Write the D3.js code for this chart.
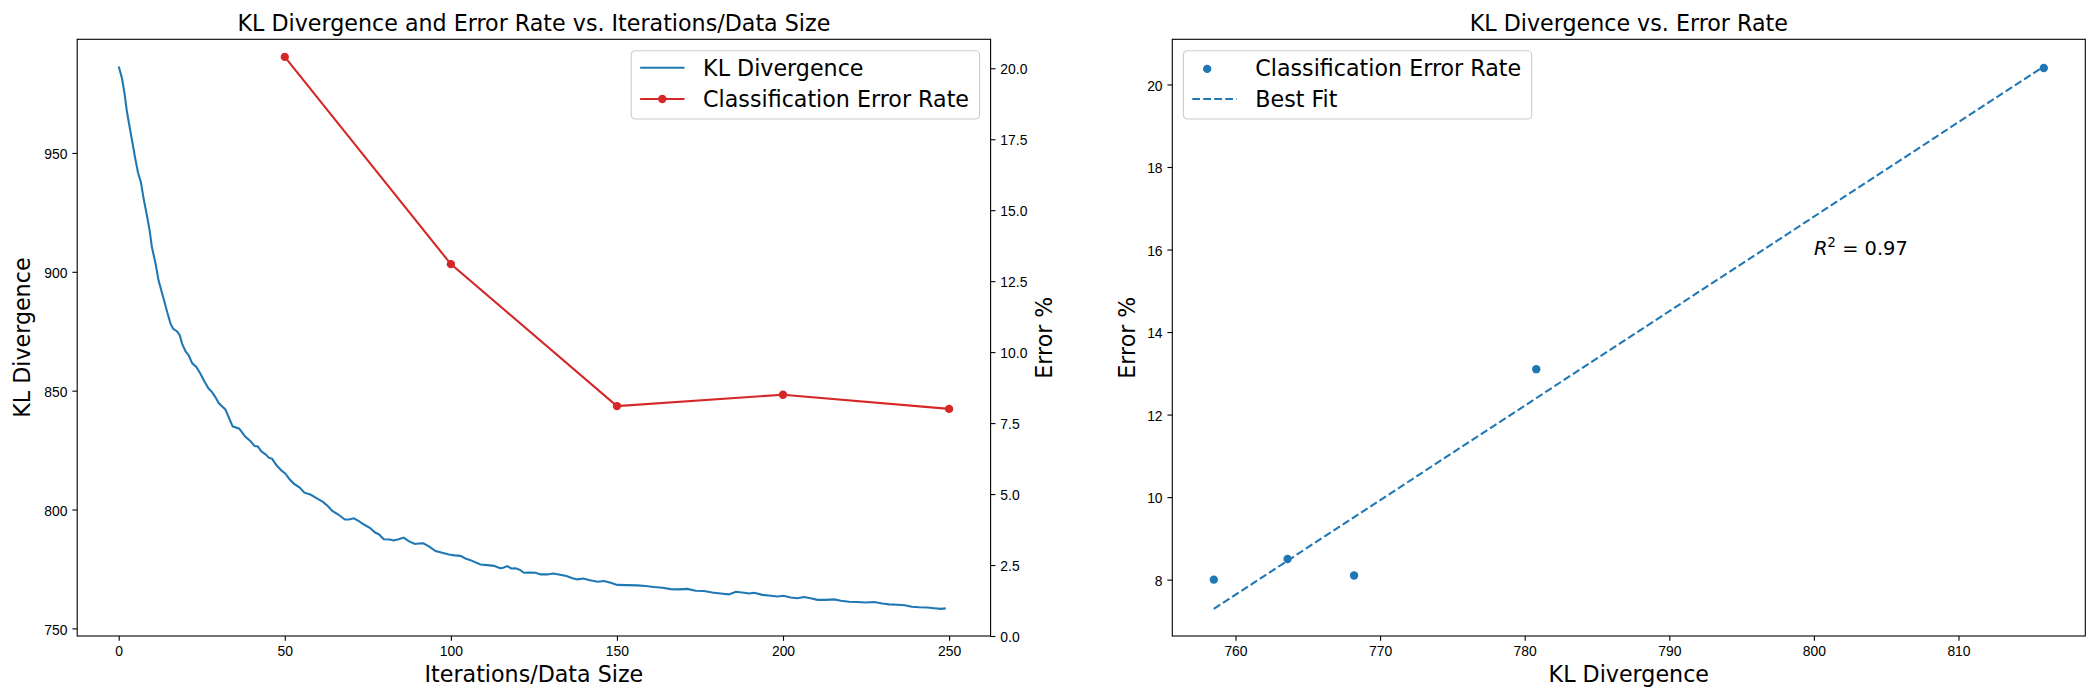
<!DOCTYPE html>
<html>
<head>
<meta charset="utf-8">
<script src="https://cdn.jsdelivr.net/npm/d3@7"></script>
<style>
  body { margin: 0; background: #fff; }
  svg { display: block; font-family: "DejaVu Sans", sans-serif; }
  .tick text { font-size: 13.9px; fill: #000; }
  .tick line { stroke: #000; stroke-width: 1.1px; }
  .domain { display: none; }
</style>
</head>
<body>
<svg id="chart" width="2100" height="700"></svg>
<script>
// KL divergence curve (iteration, value)
const klIter = [0, 1, 1.7, 2.5, 3.3, 4.1, 5, 5.8, 6.7, 7.5, 8.5, 9.3, 10, 11.1, 12, 13.4, 14.6, 15.6, 16.4, 17.6,
  18.4, 19.1, 20.1, 21.1, 22.1, 23.4, 24.6, 25.9, 27.1, 28.1, 29.1, 30.1, 31.1, 32.1, 34.3, 36.3, 38, 39.7, 40.9, 41.9,
  42.9, 44.2, 45.2, 46.2, 47.5, 48.9, 50.2, 51.5, 52.7, 54.5, 55.9, 57.7, 59.8, 61.6, 63, 64.3, 66, 68.1, 69.3, 70.8,
  72.3, 73.8, 75.6, 77.3, 78.3, 79.8, 81.6, 82.8, 84.3, 85.8, 87.3, 89.2, 90.4, 91.7, 93.4, 95.4, 97.4, 99.4, 101.1, 102.9,
  104.4, 105.9, 108.9, 111, 113, 114.8, 115.8, 117, 118.2, 119.5, 120.8, 122, 124, 125.5, 127, 129, 130.8, 132.5, 134.8, 136.6,
  138.1, 139.9, 141.6, 144.1, 146.1, 148.1, 150.1, 153.1, 156.1, 158.6, 161.1, 163.7, 166.2, 168.7, 171.2, 173.7, 176.2, 178.7, 181.2, 183.7,
  185.8, 188.3, 189.8, 191.3, 193.8, 196.3, 198.3, 200.1, 202.3, 204.3, 206.3, 208.3, 210.4, 212.9, 215.4, 217.4, 219.9, 222.4, 224.9, 227.4,
  229.9, 231.9, 234.5, 236.7, 238.7, 241, 243.5, 245.5, 247.5, 249];
const klValue = [986.4, 981.3, 975.5, 967.1, 960.8, 954.5, 947.5, 941.8, 937.6, 930.7, 923.7, 917.4, 910.3, 903.4, 896.3, 889.3, 883, 878.2, 876, 874.9,
  873.2, 869.7, 866.6, 864.8, 861.6, 859.9, 857.1, 853.6, 850.8, 849.4, 847.3, 844.8, 843.4, 842.1, 835, 834, 830.8, 828.7, 826.7, 826.5,
  824.5, 823.2, 821.8, 821.3, 818.6, 816.5, 815.1, 812.6, 810.9, 809.2, 807.1, 806.3, 804.6, 803.1, 801.4, 799.4, 798, 795.8, 795.8, 796.3,
  795.1, 793.7, 792.3, 790.2, 789.6, 787.5, 787.4, 787, 787.5, 788.2, 786.7, 785.5, 785.7, 785.8, 784.5, 782.5, 781.8, 781.1, 780.7, 780.5,
  779.4, 778.7, 776.9, 776.6, 776.3, 775.3, 775.5, 776.2, 775.2, 775.3, 774.6, 773.4, 773.5, 773.4, 772.7, 772.7, 773.1, 772.7, 772, 771.1,
  770.6, 771, 770.3, 769.6, 769.9, 769.2, 768.3, 768.2, 768.1, 767.8, 767.4, 767.1, 766.5, 766.4, 766.6, 765.8, 765.7, 765.1, 764.7, 764.3,
  765.4, 765, 764.7, 765, 764.1, 763.7, 763.4, 763.7, 763, 762.7, 763.2, 762.7, 762, 762, 762.2, 761.6, 761.2, 761.1, 760.9, 761.1,
  760.5, 760.1, 759.9, 759.7, 759.1, 758.9, 758.8, 758.5, 758.2, 758.4];

// classification error rate per data size
const errIter = [50, 100, 150, 200, 250];
const errRate = [20.4, 13.1, 8.1, 8.5, 8.0];
// KL divergence at those sizes (x of the scatter)
const scatterKL = [815.9, 780.8, 768.2, 763.6, 758.5];

// ticks
const xTicksLeft = [0, 50, 100, 150, 200, 250];
const yTicksKL = [750, 800, 850, 900, 950];
const yTicksErr = [0, 2.5, 5, 7.5, 10, 12.5, 15, 17.5, 20];
const xTicksRight = [760, 770, 780, 790, 800, 810];
const yTicksRight = [8, 10, 12, 14, 16, 18, 20];

const legendLeft = ["KL Divergence", "Classification Error Rate"];
const legendRight = ["Classification Error Rate", "Best Fit"];

const BLUE = "#1f77b4", RED = "#d62728";
const svg = d3.select("#chart");
svg.append("rect").attr("width", 2100).attr("height", 700).attr("fill", "#fff");

const L = { x0: 77.2, x1: 990.6, y0: 39.3, y1: 636 };
const R = { x0: 1172.3, x1: 2085.3, y0: 39.3, y1: 636 };
const TICK = 4.86;

const pad = (lo, hi) => { const m = (hi - lo) * 0.05; return [lo - m, hi + m]; };

// ---------- left panel ----------
const xL = d3.scaleLinear().domain(pad(0, 250)).range([L.x0, L.x1]);
const yKL = d3.scaleLinear().domain(pad(d3.min(klValue), d3.max(klValue))).range([L.y1, L.y0]);
const errPad = pad(d3.min(errRate), d3.max(errRate));
const yErr = d3.scaleLinear().domain([0, errPad[1]]).range([L.y1, L.y0]);

const gL = svg.append("g");
gL.append("path")
  .attr("d", d3.line().x((d, i) => xL(klIter[i])).y(d => yKL(d))(klValue))
  .attr("fill", "none").attr("stroke", BLUE).attr("stroke-width", 2.08);

gL.append("path")
  .attr("d", d3.line().x((d, i) => xL(errIter[i])).y(d => yErr(d))(errRate))
  .attr("fill", "none").attr("stroke", RED).attr("stroke-width", 2.08);
gL.selectAll("circle.err").data(errRate).enter().append("circle")
  .attr("cx", (d, i) => xL(errIter[i])).attr("cy", d => yErr(d)).attr("r", 4.17).attr("fill", RED);

svg.append("g").attr("transform", `translate(0,${L.y1})`)
  .call(d3.axisBottom(xL).tickValues(xTicksLeft).tickFormat(d3.format("d")).tickSize(TICK).tickPadding(TICK));
svg.append("g").attr("transform", `translate(${L.x0},0)`)
  .call(d3.axisLeft(yKL).tickValues(yTicksKL).tickFormat(d3.format("d")).tickSize(TICK).tickPadding(TICK))
  .selectAll("text").attr("dy", "0.41em");
svg.append("g").attr("transform", `translate(${L.x1},0)`)
  .call(d3.axisRight(yErr).tickValues(yTicksErr).tickFormat(d3.format(".1f")).tickSize(TICK).tickPadding(TICK))
  .selectAll("text").attr("dy", "0.41em");

svg.append("rect").attr("x", L.x0).attr("y", L.y0).attr("width", L.x1 - L.x0).attr("height", L.y1 - L.y0)
  .attr("fill", "none").attr("stroke", "#000").attr("stroke-width", 1.1);

// ---------- right panel ----------
const fit = (() => {
  const mx = d3.mean(scatterKL), my = d3.mean(errRate);
  let sxy = 0, sxx = 0, syy = 0;
  scatterKL.forEach((x, i) => { sxy += (x - mx) * (errRate[i] - my); sxx += (x - mx) ** 2; syy += (errRate[i] - my) ** 2; });
  const slope = sxy / sxx;
  return { slope, icpt: my - slope * mx, r2: (sxy * sxy) / (sxx * syy) };
})();
const fitX = d3.extent(scatterKL);
const fitY = fitX.map(x => fit.slope * x + fit.icpt);

const xR = d3.scaleLinear().domain(pad(fitX[0], fitX[1])).range([R.x0, R.x1]);
const yR = d3.scaleLinear().domain(pad(d3.min(errRate.concat(fitY)), d3.max(errRate.concat(fitY)))).range([R.y1, R.y0]);

const gR = svg.append("g");
gR.selectAll("circle").data(errRate).enter().append("circle")
  .attr("cx", (d, i) => xR(scatterKL[i])).attr("cy", d => yR(d)).attr("r", 4.17).attr("fill", BLUE);
gR.append("path")
  .attr("d", d3.line().x(d => xR(d)).y((d, i) => yR(fitY[i]))(fitX))
  .attr("fill", "none").attr("stroke", BLUE).attr("stroke-width", 2.08).attr("stroke-dasharray", "7.7,3.3");

svg.append("g").attr("transform", `translate(0,${R.y1})`)
  .call(d3.axisBottom(xR).tickValues(xTicksRight).tickFormat(d3.format("d")).tickSize(TICK).tickPadding(TICK));
svg.append("g").attr("transform", `translate(${R.x0},0)`)
  .call(d3.axisLeft(yR).tickValues(yTicksRight).tickFormat(d3.format("d")).tickSize(TICK).tickPadding(TICK))
  .selectAll("text").attr("dy", "0.41em");

svg.append("rect").attr("x", R.x0).attr("y", R.y0).attr("width", R.x1 - R.x0).attr("height", R.y1 - R.y0)
  .attr("fill", "none").attr("stroke", "#000").attr("stroke-width", 1.1);

// R^2 note at data (800, 16)
const note = svg.append("text").attr("x", xR(800)).attr("y", yR(16)).attr("dy", "0.3em")
  .attr("font-size", 19.4).attr("fill", "#000");
note.append("tspan").attr("font-style", "italic").text("R");
note.append("tspan").attr("font-size", 13.6).attr("dy", -8).text("2");
note.append("tspan").attr("dy", 8).text(` = ${fit.r2.toFixed(2)}`);

// ---------- titles & labels ----------
const FS = 22.2;
function label(x, y, txt, rot) {
  const t = svg.append("text").attr("font-size", FS).attr("fill", "#000").attr("text-anchor", "middle").text(txt);
  if (rot) t.attr("transform", `translate(${x},${y}) rotate(-90)`);
  else t.attr("x", x).attr("y", y);
}
const cL = (L.x0 + L.x1) / 2, cR = (R.x0 + R.x1) / 2, cy = (L.y0 + L.y1) / 2;
label(cL, 31.3, "KL Divergence and Error Rate vs. Iterations/Data Size");
label(cR, 31.3, "KL Divergence vs. Error Rate");
label(cL, 681.5, "Iterations/Data Size");
label(cR, 681.5, "KL Divergence");
label(30, cy, "KL Divergence", true);
label(1052, cy, "Error %", true);
label(1135, cy, "Error %", true);

// ---------- legends ----------
function legend(x, y, labels, handles, alignRight) {
  const g = svg.append("g");
  const box = g.append("rect").attr("rx", 4).attr("fill", "#fff").attr("fill-opacity", 0.8)
    .attr("stroke", "#cccccc").attr("stroke-width", 1.1);
  let w = 0;
  const rows = [17, 48.3];
  labels.forEach((lab, i) => {
    const t = g.append("text").attr("x", 71.9).attr("y", rows[i] + 8).attr("font-size", FS).attr("fill", "#000").text(lab);
    w = Math.max(w, t.node().getComputedTextLength());
    handles[i](g, 8.9, 53.3, rows[i]);
  });
  const bw = 71.9 + w + 10.5, bh = 68.3;
  box.attr("width", bw).attr("height", bh);
  g.attr("transform", `translate(${alignRight ? x - bw : x},${y})`);
}
const lineHandle = (color, dash, marker) => (g, a, b, y) => {
  g.append("line").attr("x1", a).attr("x2", b).attr("y1", y).attr("y2", y)
    .attr("stroke", color).attr("stroke-width", 2.08).attr("stroke-dasharray", dash || null);
  if (marker) g.append("circle").attr("cx", (a + b) / 2).attr("cy", y).attr("r", 4.17).attr("fill", color);
};
const dotHandle = color => (g, a, b, y) => {
  g.append("circle").attr("cx", (a + b) / 2 - 7.3).attr("cy", y + 1.2).attr("r", 4.17).attr("fill", color);
};
legend(L.x1 - 11.1, L.y0 + 11.4, legendLeft, [lineHandle(BLUE), lineHandle(RED, null, true)], true);
legend(R.x0 + 11.1, R.y0 + 11.4, legendRight, [dotHandle(BLUE), lineHandle(BLUE, "7.7,3.3")], false);
</script>
</body>
</html>
